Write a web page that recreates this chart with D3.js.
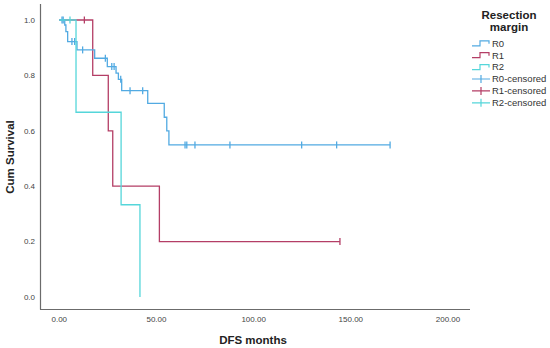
<!DOCTYPE html>
<html>
<head>
<meta charset="utf-8">
<script src="https://cdn.jsdelivr.net/npm/d3@7"></script>
<style>
  body { margin: 0; background: #fff; }
  text { font-family: "Liberation Sans", Arial, sans-serif; }
</style>
</head>
<body>
<script>
var width = 550,
    height = 348;

// Kaplan-Meier steps: event times (months) and survival after each drop
var r0Times = [2.8, 3.4, 4.3, 9.1, 18.2, 24.7, 29.2, 30.4, 32.1, 45.5, 54.0, 55.3, 56.4];
var r0Surv  = [0.982, 0.958, 0.922, 0.892, 0.862, 0.832, 0.808, 0.786, 0.745, 0.699, 0.649, 0.600, 0.549];
var r0Censored = [1.4, 2.0, 6.5, 7.9, 12.0, 23.7, 27.0, 28.2, 31.6, 36.4, 42.9, 64.7, 65.6, 69.8, 87.8, 124.7, 142.7, 170.2];
var r0End = 170.2;

var r1Times = [17.2, 25.2, 27.5, 51.5];
var r1Surv  = [0.8, 0.6, 0.4, 0.2];
var r1Censored = [12.9, 144.4];
var r1End = 144.4;

var r2Times = [8.6, 31.8, 41.5];
var r2Surv  = [0.667, 0.333, 0.0];
var r2Censored = [5.5];
var r2End = 41.5;

var yTicks = [0, 0.2, 0.4, 0.6, 0.8, 1.0];
var xTicks = [0, 50, 100, 150, 200];
var groups = ["R0", "R1", "R2"];

var color = d3.scaleOrdinal()
    .domain(groups)
    .range(["#52aae2", "#b43e66", "#55d6da"]);

var x = d3.scaleLinear()
    .domain([0, 200])
    .range([59.3, 448]);

var y = d3.scaleLinear()
    .domain([0, 1])
    .range([297, 20]);

var svg = d3.select("body").append("svg")
    .attr("width", width)
    .attr("height", height);

// axes: plain lines, labels without tick marks (SPSS style)
svg.append("line")
    .attr("x1", 40.5).attr("x2", 40.5)
    .attr("y1", 4).attr("y2", 309.5)
    .attr("stroke", "#6b6b6b").attr("stroke-width", 1.2);
svg.append("line")
    .attr("x1", 40).attr("x2", 470)
    .attr("y1", 309.5).attr("y2", 309.5)
    .attr("stroke", "#6b6b6b").attr("stroke-width", 1.2);

svg.selectAll(".ytick")
    .data(yTicks)
    .enter().append("text")
    .attr("class", "ytick")
    .attr("x", 35)
    .attr("y", function(d) { return y(d); })
    .attr("dy", "0.35em")
    .attr("text-anchor", "end")
    .style("font-size", "8px")
    .style("fill", "#444")
    .text(d3.format(".1f"));

svg.selectAll(".xtick")
    .data(xTicks)
    .enter().append("text")
    .attr("class", "xtick")
    .attr("x", function(d) { return x(d); })
    .attr("y", 322)
    .attr("text-anchor", "middle")
    .style("font-size", "8px")
    .style("fill", "#444")
    .text(d3.format(".2f"));

svg.append("text")
    .attr("transform", "translate(14,157) rotate(-90)")
    .attr("text-anchor", "middle")
    .style("font-size", "11.5px")
    .style("font-weight", "bold")
    .style("fill", "#222")
    .text("Cum Survival");

svg.append("text")
    .attr("x", 253)
    .attr("y", 344)
    .attr("text-anchor", "middle")
    .style("font-size", "11.5px")
    .style("font-weight", "bold")
    .style("fill", "#222")
    .text("DFS months");

function steps(times, surv, end) {
    var pts = [[0, 1]];
    times.forEach(function(t, i) { pts.push([t, surv[i]]); });
    if (end > times[times.length - 1]) pts.push([end, surv[surv.length - 1]]);
    return pts;
}

function survAt(times, surv, t) {
    var s = 1;
    times.forEach(function(d, i) { if (d <= t) s = surv[i]; });
    return s;
}

var series = [
    {key: "R1", times: r1Times, surv: r1Surv, cens: r1Censored, end: r1End},
    {key: "R0", times: r0Times, surv: r0Surv, cens: r0Censored, end: r0End},
    {key: "R2", times: r2Times, surv: r2Surv, cens: r2Censored, end: r2End}
];

var line = d3.line()
    .x(function(d) { return x(d[0]); })
    .y(function(d) { return y(d[1]); })
    .curve(d3.curveStepAfter);

series.forEach(function(s) {
    svg.append("path")
        .datum(steps(s.times, s.surv, s.end))
        .attr("d", line)
        .attr("fill", "none")
        .attr("stroke", color(s.key))
        .attr("stroke-width", 1.3);

    svg.selectAll(".cens-" + s.key)
        .data(s.cens)
        .enter().append("line")
        .attr("class", "cens-" + s.key)
        .attr("x1", function(d) { return x(d); })
        .attr("x2", function(d) { return x(d); })
        .attr("y1", function(d) { return y(survAt(s.times, s.surv, d)) - 3.5; })
        .attr("y2", function(d) { return y(survAt(s.times, s.surv, d)) + 3.5; })
        .attr("stroke", color(s.key))
        .attr("stroke-width", 1.3);
});

// Legend
var legend = svg.append("g");

legend.append("text")
    .attr("x", 509).attr("y", 18.5)
    .attr("text-anchor", "middle")
    .style("font-size", "11.5px").style("font-weight", "bold").style("fill", "#222")
    .text("Resection");
legend.append("text")
    .attr("x", 509).attr("y", 31)
    .attr("text-anchor", "middle")
    .style("font-size", "11.5px").style("font-weight", "bold").style("fill", "#222")
    .text("margin");

var items = groups.map(function(g) { return {key: g, label: g, type: "step"}; })
    .concat(groups.map(function(g) { return {key: g, label: g + "-censored", type: "cens"}; }));

var item = legend.selectAll(".item")
    .data(items)
    .enter().append("g")
    .attr("class", "item")
    .attr("transform", function(d, i) { return "translate(0," + (43.3 + i * 11.9) + ")"; });

item.filter(function(d) { return d.type === "step"; })
    .append("path")
    .attr("d", "M472,2.5H480V-2.5H489V0.5")
    .attr("fill", "none")
    .attr("stroke", function(d) { return color(d.key); })
    .attr("stroke-width", 1.2);

item.filter(function(d) { return d.type === "cens"; })
    .append("path")
    .attr("d", "M472,0H490M481,-4V4")
    .attr("fill", "none")
    .attr("stroke", function(d) { return color(d.key); })
    .attr("stroke-width", 1.2);

item.append("text")
    .attr("x", 492)
    .attr("dy", "0.35em")
    .style("font-size", "9.5px")
    .style("fill", "#333")
    .text(function(d) { return d.label; });
</script>
</body>
</html>
